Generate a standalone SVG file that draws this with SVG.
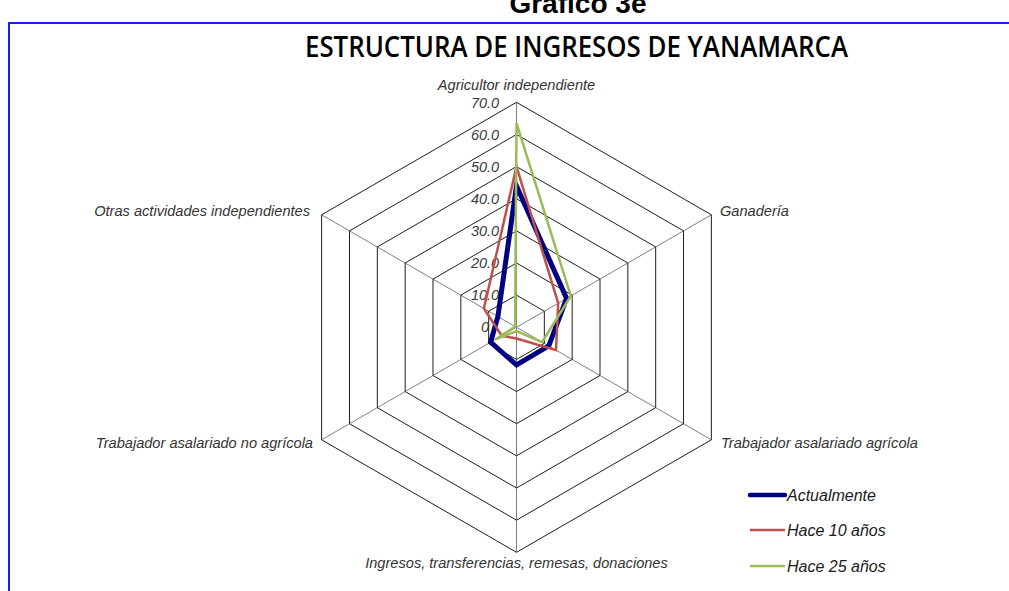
<svg xmlns="http://www.w3.org/2000/svg" width="1009" height="591" viewBox="0 0 1009 591">
<style>
.ring{fill:none;stroke:#1e1e1e;stroke-width:1}
.spoke{stroke:#808080;stroke-width:1}
.tick{font-family:"Liberation Sans",Arial,sans-serif;font-style:italic;font-size:14.5px;fill:#3a3a3a;text-anchor:middle}
.axl{font-family:"Liberation Sans",Arial,sans-serif;font-style:italic;font-size:14.6px;fill:#333}
.leg{font-family:"Liberation Sans",Arial,sans-serif;font-style:italic;font-size:16px;fill:#1a1a1a}
.s{fill:none;stroke-linejoin:miter}
</style>
<rect x="0" y="0" width="1009" height="591" fill="#fff"/>
<g id="frame">
<text x="578" y="13" font-family="'Liberation Sans',Arial,sans-serif" font-weight="bold" font-size="28" text-anchor="middle" fill="#000">Gráfico 3e</text>
<path d="M9 591 V23 H1009" fill="none" stroke="#1a1aff" stroke-width="2"/>
</g>
<g id="title">
<text x="576.5" y="57" font-family="'Open Sans','Liberation Sans',Arial,sans-serif" font-weight="600" font-size="29" text-anchor="middle" fill="#000" textLength="543" lengthAdjust="spacingAndGlyphs">ESTRUCTURA DE INGRESOS DE YANAMARCA</text>
</g>
<g id="grid" transform="translate(516.5,327.3)">
<g class="spokes">
<line class="spoke" x1="0" y1="0" x2="0" y2="-225"/>
<line class="spoke" x1="0" y1="0" x2="194.86" y2="-112.5"/>
<line class="spoke" x1="0" y1="0" x2="194.86" y2="112.5"/>
<line class="spoke" x1="0" y1="0" x2="0" y2="225"/>
<line class="spoke" x1="0" y1="0" x2="-194.86" y2="112.5"/>
<line class="spoke" x1="0" y1="0" x2="-194.86" y2="-112.5"/>
</g>
<polygon class="ring" points="0,-32.14 27.83,-16.07 27.83,16.07 0,32.14 -27.83,16.07 -27.83,-16.07"/>
<polygon class="ring" points="0,-64.29 55.67,-32.14 55.67,32.14 0,64.29 -55.67,32.14 -55.67,-32.14"/>
<polygon class="ring" points="0,-96.43 83.51,-48.21 83.51,48.21 0,96.43 -83.51,48.21 -83.51,-48.21"/>
<polygon class="ring" points="0,-128.57 111.34,-64.29 111.34,64.29 0,128.57 -111.34,64.29 -111.34,-64.29"/>
<polygon class="ring" points="0,-160.71 139.18,-80.36 139.18,80.36 0,160.71 -139.18,80.36 -139.18,-80.36"/>
<polygon class="ring" points="0,-192.86 167.02,-96.43 167.02,96.43 0,192.86 -167.02,96.43 -167.02,-96.43"/>
<polygon class="ring" points="0,-225 194.86,-112.5 194.86,112.5 0,225 -194.86,112.5 -194.86,-112.5"/>
</g>
<g id="ticks">
<text class="tick" x="485" y="108">70.0</text>
<text class="tick" x="485" y="140">60.0</text>
<text class="tick" x="485" y="172">50.0</text>
<text class="tick" x="485" y="204">40.0</text>
<text class="tick" x="485" y="236">30.0</text>
<text class="tick" x="485" y="268">20.0</text>
<text class="tick" x="485" y="300">10.0</text>
<text class="tick" x="485" y="332">0</text>
</g>
<g id="axis-labels">
<text class="axl" x="516.5" y="90" text-anchor="middle">Agricultor independiente</text>
<text class="axl" x="720" y="216">Ganadería</text>
<text class="axl" x="721" y="448">Trabajador asalariado agrícola</text>
<text class="axl" x="516.5" y="568" text-anchor="middle">Ingresos, transferencias, remesas, donaciones</text>
<text class="axl" x="313" y="448" text-anchor="end">Trabajador asalariado no agrícola</text>
<text class="axl" x="310" y="216" text-anchor="end">Otras actividades independientes</text>
</g>
<g id="series">
<polygon id="s-actual" class="s" stroke="#000080" stroke-width="5" points="516.5,185.9 566.6,298.4 548.8,345.9 516.5,364.9 490.6,342.2 497.9,316.5"/>
<polygon id="s-10" class="s" stroke="#c0504d" stroke-width="2.5" points="516.5,166.6 558.2,303.2 556.0,350.1 516.5,338.5 501.8,335.8 483.9,308.5"/>
<polygon id="s-25" class="s" stroke="#9bbb59" stroke-width="2.5" points="516.5,123.2 570.8,296.0 542.1,342.1 516.5,331.2 495.6,339.4 515.1,326.5"/>
</g>
<g id="legend">
<line x1="750" y1="495" x2="785" y2="495" stroke="#000080" stroke-width="4.5" stroke-linecap="round"/>
<text class="leg" x="787" y="500.5">Actualmente</text>
<line x1="750" y1="530" x2="785" y2="530" stroke="#c0504d" stroke-width="2.5"/>
<text class="leg" x="787" y="535.5">Hace 10 años</text>
<line x1="750" y1="566" x2="785" y2="566" stroke="#9bbb59" stroke-width="2.5"/>
<text class="leg" x="787" y="571.5">Hace 25 años</text>
</g>
</svg>
